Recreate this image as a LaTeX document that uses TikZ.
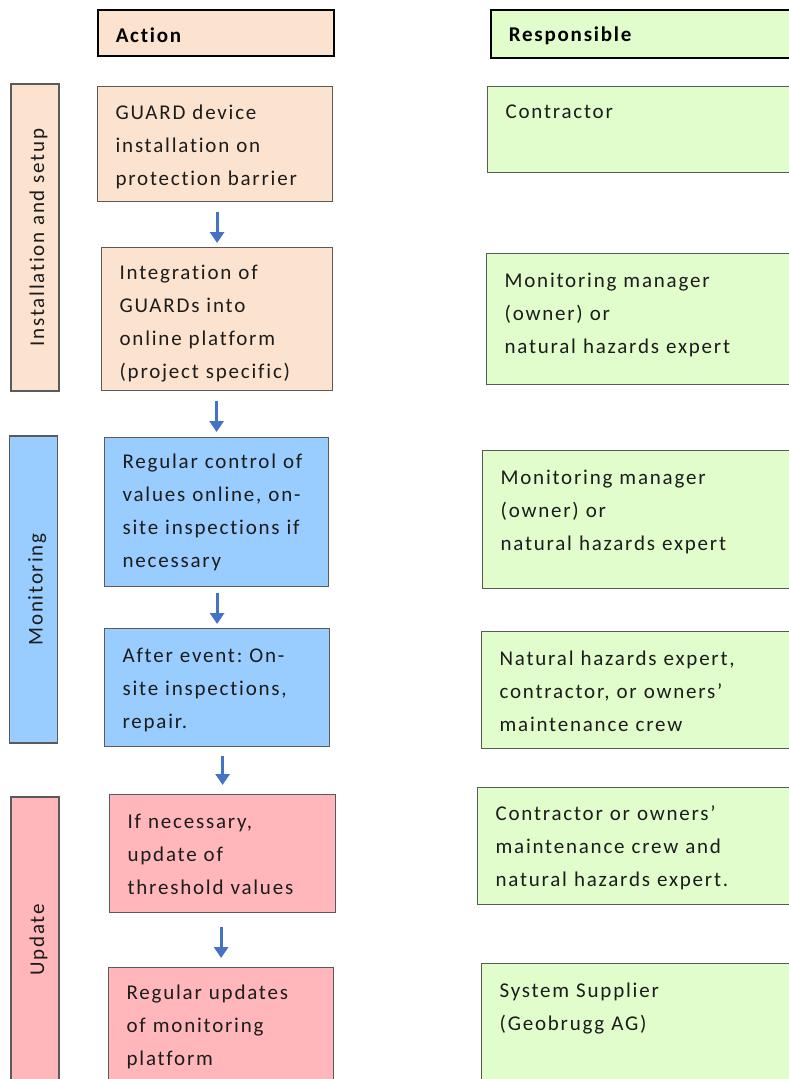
\documentclass[tikz,border=0pt]{standalone}
\usepackage{fontspec}
\setmainfont{Carlito}[LetterSpace=8.5,Ligatures=NoCommon]
\usepackage{tikz}
\usetikzlibrary{arrows.meta}
\frenchspacing

\definecolor{peach}{HTML}{FCE3CF}
\definecolor{lime}{HTML}{E1FDCB}
\definecolor{sky}{HTML}{99CCFF}
\definecolor{rose}{HTML}{FFB7BB}
\definecolor{flowblue}{HTML}{4472C4}
\definecolor{edgegray}{HTML}{5A5A5A}
\definecolor{ink}{HTML}{1C1C1C}

\newcommand{\celllines}[1]{\begin{tabular}[t]{@{}l@{}}#1\end{tabular}}

\begin{document}
\begin{tikzpicture}[x=1pt,y=-1pt,
            cell/.style={draw=edgegray,line width=1.2pt,anchor=north west,align=left,inner xsep=18pt,inner ysep=0pt,text=ink,font=\fontsize{21}{33}\selectfont},
            head/.style={cell,draw=black,line width=1.5pt,text=black,font=\fontsize{21}{33}\selectfont\bfseries},
            side/.style={draw=edgegray,line width=1.2pt,rotate=90,minimum height=48pt,inner sep=0pt,text height=18pt,text depth=0pt,text=ink,font=\fontsize{21}{33}\selectfont},
            flow/.style={draw=flowblue,line width=3pt,-{Triangle[width=14pt,length=11pt]}}
          ]
          \useasboundingbox (0,0) rectangle (789,1079);
          \clip (0,0) rectangle (789,1079);

          %column heads
          \node[head,fill=peach,text width=200pt,text height=32.5pt,text depth=13.5pt] (acthead) at (97,9) {Action};
          \node[head,fill=lime,text width=274pt,text height=32pt,text depth=16pt] (resphead) at (490,9) {Responsible};

          %phases
          \node[side,fill=peach,minimum width=307pt] (setup) at (35,237.5) {Installation and setup};
          \node[side,fill=sky,minimum width=307pt] (monitor) at (33.5,589.5) {Monitoring};
          \node[side,fill=rose,minimum width=286pt] (update) at (35,940) {Update};

          %actions
          \node[cell,fill=peach,text width=199pt,text height=33pt,text depth=82pt] (act1) at (97,86) {\celllines{GUARD device\\installation on\\protection barrier}};
          \node[cell,fill=peach,text width=195pt,text height=32pt,text depth=111pt] (act2) at (101,247) {\celllines{Integration of\\GUARDs into\\online platform\\(project specific)}};
          \node[cell,fill=sky,text width=188pt,text height=31.5pt,text depth=118pt] (act3) at (104,436.5) {\celllines{Regular control of\\values online, on-\\site inspections if\\necessary}};
          \node[cell,fill=sky,text width=189pt,text height=34pt,text depth=83.5pt] (act4) at (104,628) {\celllines{After event: On-\\site inspections,\\repair.}};
          \node[cell,fill=rose,text width=190pt,text height=34pt,text depth=83.5pt] (act5) at (109,794) {\celllines{If necessary,\\update of\\threshold values}};
          \node[cell,fill=rose,text width=189pt,text height=32pt,text depth=96pt] (act6) at (108,967) {\celllines{Regular updates\\of monitoring\\platform}};

          %responsibles
          \node[cell,fill=lime,text width=277pt,text height=32pt,text depth=54pt] (resp1) at (487,86) {\celllines{Contractor}};
          \node[cell,fill=lime,text width=278pt,text height=33.5pt,text depth=97.5pt] (resp2) at (486,253) {\celllines{Monitoring manager\\(owner) or\\natural hazards expert}};
          \node[cell,fill=lime,text width=282pt,text height=33.5pt,text depth=104.5pt] (resp3) at (482,450) {\celllines{Monitoring manager\\(owner) or\\natural hazards expert}};
          \node[cell,fill=lime,text width=283pt,text height=34pt,text depth=83pt] (resp4) at (481,631) {\celllines{Natural hazards expert,\\contractor, or owners'\\maintenance crew}};
          \node[cell,fill=lime,text width=287pt,text height=33pt,text depth=84pt] (resp5) at (477,787) {\celllines{Contractor or owners'\\maintenance crew and\\natural hazards expert.}};
          \node[cell,fill=lime,text width=283pt,text height=34pt,text depth=96pt] (resp6) at (481,963) {\celllines{System Supplier\\(Geobrugg AG)}};

          %flow
          \draw[flow,shorten <=10pt,shorten >=4pt] (act1.south -| act2.north) -- (act2.north);
          \draw[flow,shorten <=10pt,shorten >=4.5pt] (act2.south -| act3.north) -- (act3.north);
          \draw[flow,shorten <=6pt,shorten >=4pt] (act3.south -| act4.north) -- (act4.north);
          \draw[flow,shorten <=9.5pt,shorten >=9pt] (act4.south -| act5.north) -- (act5.north);
          \draw[flow,shorten <=14.5pt,shorten >=9pt] (act5.south -| act6.north) -- (act6.north);
\end{tikzpicture}
\end{document}
